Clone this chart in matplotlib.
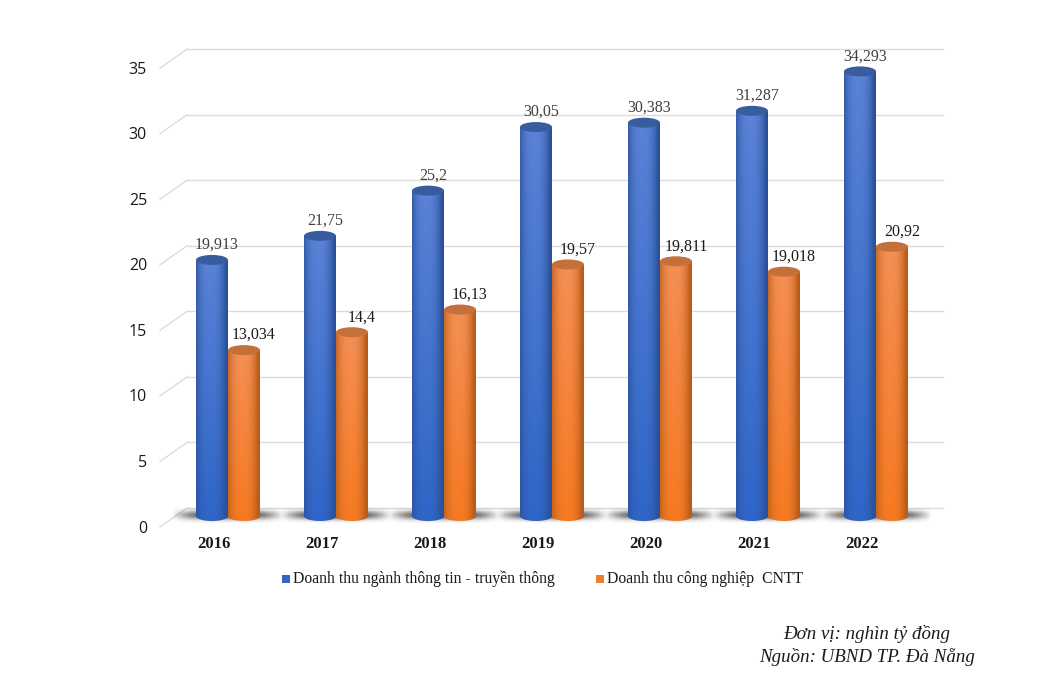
import numpy as np
import matplotlib
matplotlib.use('Agg')
import matplotlib.pyplot as plt
from matplotlib.patches import Ellipse, PathPatch, Rectangle
from matplotlib.path import Path
from matplotlib.colors import to_rgb

# Donnees
years = ['2016', '2017', '2018', '2019', '2020', '2021', '2022']
telecom = [19.913, 21.75, 25.2, 30.05, 30.383, 31.287, 34.293]
cntt = [13.034, 14.4, 16.13, 19.57, 19.811, 19.018, 20.92]
telecom_labels = ['19,913', '21,75', '25,2', '30,05', '30,383', '31,287', '34,293']
cntt_labels = ['13,034', '14,4', '16,13', '19,57', '19,811', '19,018', '20,92']
yticks = [0, 5, 10, 15, 20, 25, 30, 35]

plt.rcParams['font.family'] = ['Liberation Serif', 'DejaVu Serif']

W, H = 1058, 680
PX_Y = 13.11     # pixels par unite
PX_X = 108.0     # pixels par categorie
Y0 = 521.0       # ligne de base des barres (pixels depuis le haut)
X0 = 228.0       # centre de la premiere categorie

fig = plt.figure(figsize=(W / 100, H / 100), dpi=100)
ax = fig.add_axes([0, 0, 1, 1])
ax.axis('off')

bw = 32 / PX_X
ry = 5 / PX_Y
back_dy = 13 / PX_Y
front_dy = -6 / PX_Y
left_back = (187 - X0) / PX_X
right_back = (943 - X0) / PX_X
left_front = (160 - X0) / PX_X
grid_col = '#dcdcdc'

for t in yticks:
    ax.plot([left_back, right_back], [t + back_dy, t + back_dy], color=grid_col, lw=1.0, zorder=1)
    ax.plot([left_front, left_back], [t + front_dy, t + back_dy], color=grid_col, lw=1.0, zorder=1)
    ax.text((147 - X0) / PX_X, t + front_dy - 0.12, str(t), ha='right', va='center',
            fontsize=11.5, color='#1a1a1a', family=['Open Sans', 'DejaVu Sans'])


def cylinder_image(edge, mid, top_tint):
    # degrade horizontal du bord au centre, plus pale vers le haut
    u = np.linspace(-1, 1, 64)
    v = np.linspace(0, 1, 48)[:, None]  # 0 = haut
    k = (1 - np.abs(u + 0.1) ** 2.6)[None, :]
    k = np.clip(k, 0, 1)[:, :, None]
    edge, mid, top_tint = map(lambda c: np.array(to_rgb(c)), (edge, mid, top_tint))
    centre = top_tint * (1 - v[:, :, None]) + mid * v[:, :, None]
    return np.clip(edge * (1 - k) + centre * k, 0, 1)


def shadow(cx):
    # ombre au sol de chaque groupe
    u = np.linspace(-1, 1, 120)
    v = np.linspace(-1, 1, 24)[:, None]
    a = np.exp(-(v * 1.8) ** 2) * np.clip(1 - np.abs(u) ** 2.4, 0, 1)[None, :] * 0.95
    img = np.zeros((24, 120, 4))
    img[:, :, :3] = 0.2
    img[:, :, 3] = a
    h = 8 / PX_Y
    c = 6 / PX_Y
    ax.imshow(img, extent=[cx - 56 / PX_X, cx + 56 / PX_X, c - h, c + h], aspect='auto', zorder=2,
              interpolation='bilinear')


def cylinder(cx, value, img, cap):
    left, right = cx - bw / 2, cx + bw / 2
    # contour : cotes droits + arc bas
    th = np.linspace(np.pi, 2 * np.pi, 30)
    xs = cx + bw / 2 * np.cos(th)
    ys = ry + ry * np.sin(th)
    verts = [(left, value)] + list(zip(xs, ys)) + [(right, value), (left, value)]
    body = PathPatch(Path(verts), fc='none', ec='none', transform=ax.transData)
    ax.add_patch(body)
    im = ax.imshow(img, extent=[left, right, 0, value], aspect='auto', zorder=3,
                   interpolation='bilinear')
    im.set_clip_path(body)
    ax.add_patch(Ellipse((cx, value), bw, 2 * ry, fc=cap, ec='none', zorder=4))


blue_img = cylinder_image('#2a5099', '#2f66c8', '#5a82d6')
orange_img = cylinder_image('#b85c18', '#f67a22', '#f58f55')

for i in range(len(years)):
    shadow(i)
    cylinder(i - bw / 2, telecom[i], blue_img, '#375d9e')
    cylinder(i + bw / 2, cntt[i], orange_img, '#c4703a')
    ax.text(i - bw / 2 + 5 / PX_X, telecom[i] + 15 / PX_Y, telecom_labels[i], ha='center', va='center',
            fontsize=11.5, color='#404040')
    ax.text(i + bw / 2 + 10 / PX_X, cntt[i] + 15 / PX_Y, cntt_labels[i], ha='center', va='center',
            fontsize=11.5, color='#1a1a1a')
    ax.text(i - 14 / PX_X, -(544.5 - Y0) / PX_Y, years[i], ha='center', va='center',
            fontsize=12, fontweight='bold', color='#1a1a1a')

ax.set_xlim(-X0 / PX_X, (W - X0) / PX_X)
ax.set_ylim(-(H - Y0) / PX_Y, Y0 / PX_Y)

# legende
fig.add_artist(Rectangle((282 / W, 1 - 583 / H), 8 / W, 8 / H, transform=fig.transFigure, fc='#3366c4', ec='none'))
fig.add_artist(Rectangle((596 / W, 1 - 583 / H), 8 / W, 8 / H, transform=fig.transFigure, fc='#ed7d31', ec='none'))
fig.text(293 / W, 1 - 579 / H, 'Doanh thu ngành thông tin - truyền thông', fontsize=11.3, va='center', color='#1a1a1a')
fig.text(607 / W, 1 - 579 / H, 'Doanh thu công nghiệp  CNTT', fontsize=11.3, va='center', color='#1a1a1a')

# source
fig.text(950 / W, 1 - 634 / H, 'Đơn vị: nghìn tỷ đồng', fontsize=13.6, style='italic', ha='right', va='center', color='#1a1a1a')
fig.text(975 / W, 1 - 657 / H, 'Nguồn: UBND TP. Đà Nẵng', fontsize=13.6, style='italic', ha='right', va='center', color='#1a1a1a')

fig.savefig('out.png', dpi=100)
